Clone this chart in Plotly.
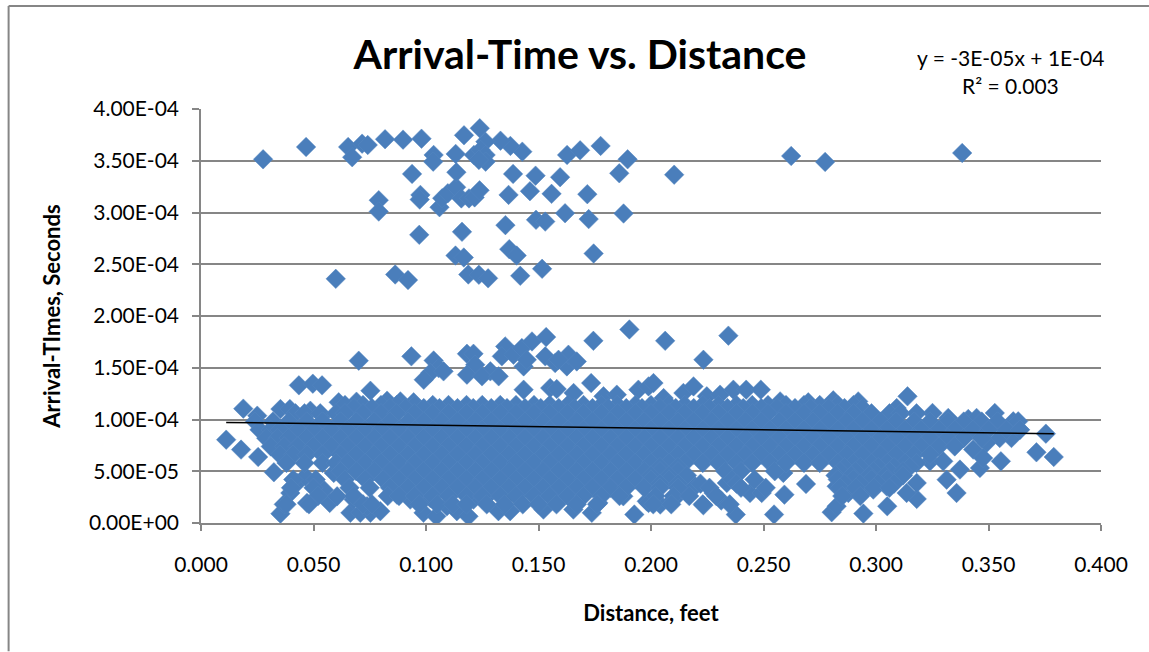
import plotly.graph_objects as go

# Values. Distance in feet, arrival time in microseconds.
upper_x = [.0276,.0467,.0654,.0672,.0716,.0741,.0818,.0898,.098,.1034,.1032,.0938,.079,.079,.0975,.0972,.097,.0599,.0863,.092,
           .106,.1072,.1097,.1134,.1135,.1132,.1157,.1191,.1216,.1238,.116,.1131,.1168,.1188,.1235,.1276,.1419,.1516,.1353,.137,
           .1403,.1489,.153,.1618,.1723,.1878,.1745,.1367,.1462,.1558,.1717,.1387,.1487,.1596,.1859,.1896,.1627,.1685,.1776,.1428,
           .1375,.1331,.1264,.1239,.1169,.1213,.1243,.1265,.1265,.1235,.2103,.2623,.2774,.3383]
upper_y = [351.4,363.3,363.3,353.4,366.5,365.2,370.8,370.4,371.3,355.6,349.1,337.3,311.9,300.9,317.0,312.5,278.4,235.9,240.1,234.7,
           305.1,313.8,318.6,324.4,338.9,356.6,313.6,313.6,314.6,321.4,281.3,258.4,256.5,240.1,239.8,236.4,238.8,245.6,287.8,264.6,
           258.4,292.9,291.2,299.3,293.6,299.0,260.4,317.0,320.6,318.0,317.7,337.3,335.6,334.1,337.9,351.4,355.6,360.1,364.3,358.8,
           364.3,369.4,368.4,381.4,374.6,355.6,360.4,355.6,349.1,350.8,336.5,354.6,348.9,357.5]

top_edge_x = [.0188,.025,.0353,.0395,.0435,.0497,.0538,.0486,.0538,.0612,.0691,.0701,.0753,.0827,.0886,.0945,.0935,.1034,.1056,.1019,
              .099,.1078,.1182,.1211,.1219,.1182,.1286,.1249,.1323,.1352,.1337,.1389,.1426,.1471,.1534,.1434,.1448,.153,.1574,.1626,
              .1633,.167,.1589,.1744,.1904,.1734,.1434,.1552,.1581,.1656,.1789,.1848,.1944,.1989,
              .2011,.2063,.2233,.2344,.2056,.2144,.2189,.2248,.2307,.2366,.2423,.2488,.2574,.2699,.281,.2921,.2988,.3092,.314,.3251,
              .3321,.341,.3447,.3528,.361,.3632,.3755,.3602,.3639,.355,.3432,.3491]
top_edge_y = [110.5,103.7,110.1,110.1,133,134.6,133,108.5,103.7,116.6,117.2,156.8,127.8,118.2,117.5,116.6,161,157,149.7,144.9,
              138.4,146.5,163.5,163.5,152.9,143.3,146.5,141.7,141.7,170.6,161,162.6,169,175.4,179.6,151.3,157.7,161,154.5,151.3,
              162.6,156.1,157.7,176,187,135.2,128.8,130.4,129.4,125.6,122.4,124,128.8,132,
              135.2,176,157.7,181,120.7,125.6,132,122.4,124,128.8,128.8,128.8,117.5,116.6,118.5,117.5,103,111,122.4,106.3,
              101.5,100.5,101.5,106.3,98.2,98.2,86.3,82.1,90.2,82.1,70.9,77.3]

low_edge_x = [.0112,.0178,.0254,.0324,.0353,.0368,.0397,.0427,.0471,.0572,.0464,.0546,.059,.0605,.0664,.0708,.0753,.0797,.0679,.0738,
              .0871,.0841,.093,.0989,.1046,.1093,.1137,.1189,.1019,.1108,.1211,.1271,.1322,.1374,.1374,.1522,.1522,.1596,.1655,.1737,
              .1766,.167,.1877,.1926,.1981,.0901,.0975,.1034,.1123,.1211,.1285,.1374,.1433,.1493,.1566,.17,.1803,.1877,
              .2377,.2547,.2803,.2825,.2944,.305,.3181,.3136,.3181,.2233,.2312,.2041,.1989,.21,.2159,.2196,.2278,.2337,.244,.2492,
              .2593,.2689,.2588,.2825,.2877,.2936,.2988,.3047,.324,.3299,.3713,.379,.3555,.3462,.3476,.3358,.3314,.3373]
low_edge_y = [80.5,70.9,63.8,49,9,18,29,38.7,19.4,19.4,45,32,48.4,25.8,9.8,9.8,9.8,11.4,22.6,16.2,
              27.4,35.5,22.6,9.8,6.5,16.2,11.4,6.5,24.2,27.4,22.6,25.8,11.4,11.4,29,13,29,22.6,13,9.8,
              19.4,29,25.8,8.2,21,38.7,42,42,42,42,42,42,45,42,45,51.6,48.4,43.5,
              8.2,8.2,10.4,16.2,9.1,16.2,23.3,29,38.7,17.2,21.7,17.8,19.4,22.6,29,35.5,29,38.7,29,29,
              27.4,37.7,48.4,35.5,29,29,32.3,35.5,59.6,59.6,68.3,63.8,59.6,53.2,62.8,29,41.9,51.6]

# Dense body of the cloud, read as horizontal bands
band_114 = [.064,.072,.080,.087,.095,.103,.110,.118,.125,.133,.140,.148,.155,.163,.170,.178,.185,.193,.200,.208,.215,.223,.230,.238,.245,.252,.260,.268,.275,.283,.290]
band_111 = [.068,.076,.084,.091,.099,.106,.114,.121,.129,.136,.144,.151,.159,.166,.174,.181,.189,.196,.204,.211,.219,.226,.234,.241,.249,.256,.264,.271,.279,.286,.294]
band_106 = [.042,.046,.053,.060,.064,.072,.080,.087,.095,.103,.110,.118,.125,.133,.140,.148,.155,.163,.170,.178,.185,.193,.200,.208,.215,.223,.230,.238,.245,.252,.260,.268,.275,.283,.290,.298,.306,.311,.318]
band_98 = [.024,.032,.039,.047,.054,.062,.069,.077,.084,.092,.099,.107,.114,.122,.129,.137,.144,.152,.159,.167,.174,.182,.189,.197,.204,.212,.219,.227,.234,.242,.249,.257,.264,.272,.279,.287,.294,.302,.309,.317,.324,.332,.339,.347,.354]
band_90 = [.026,.031,.035,.043,.050,.058,.065,.073,.080,.088,.095,.103,.110,.118,.125,.133,.140,.148,.155,.163,.170,.178,.185,.193,.200,.208,.215,.223,.230,.238,.245,.253,.260,.268,.275,.283,.290,.298,.305,.313,.320,.328,.335,.343,.350,.358,.364]
band_82 = [.029,.034,.039,.047,.054,.062,.069,.077,.084,.092,.099,.107,.114,.122,.129,.137,.144,.152,.159,.167,.174,.182,.189,.197,.204,.212,.219,.227,.234,.242,.249,.257,.264,.272,.279,.287,.294,.302,.309,.317,.324,.332,.339,.347]
band_74 = [.031,.037,.043,.050,.058,.065,.073,.080,.088,.095,.103,.110,.118,.125,.133,.140,.148,.155,.163,.170,.178,.185,.193,.200,.208,.215,.223,.230,.238,.245,.253,.260,.268,.275,.283,.290,.298,.305,.313,.320,.328,.335]
band_66 = [.035,.041,.047,.054,.062,.069,.077,.084,.092,.099,.107,.114,.122,.129,.137,.144,.152,.159,.167,.174,.182,.189,.197,.204,.212,.219,.227,.234,.242,.249,.257,.264,.272,.279,.287,.294,.302,.309,.317,.324]
band_58 = [.038,.046,.054,.060,.065,.073,.080,.088,.095,.103,.110,.118,.125,.133,.140,.148,.155,.163,.170,.178,.185,.193,.200,.208,.215,.223,.230,.238,.245,.253,.260,.268,.275,.283,.290,.298,.305,.313,.318]
band_54 = [.204,.212,.286,.293,.301,.308,.315]
band_50 = [.062,.069,.077,.084,.092,.099,.107,.114,.122,.129,.137,.144,.152,.159,.167,.174,.182,.189,.197,.204,.212,.233,.240,.255,.284,.291,.299,.306,.312]
band_46 = [.200,.208,.216,.282,.289,.297,.304,.312]
band_42 = [.041,.051,.064,.073,.081,.088,.095,.103,.110,.118,.125,.133,.140,.148,.155,.163,.170,.178,.185,.193,.200,.208,.236,.246,.283,.290,.298,.305]
band_38 = [.204,.212,.222,.238,.286,.293,.301,.308]
band_34 = [.040,.050,.066,.075,.084,.092,.099,.107,.114,.122,.129,.137,.144,.152,.159,.167,.174,.182,.189,.197,.204,.212,.226,.240,.251,.284,.291,.299,.306]
band_26 = [.052,.068,.083,.088,.095,.103,.110,.118,.125,.133,.140,.148,.155,.163,.170,.178,.186,.202,.210,.217,.229,.285,.293]
band_18 = [.038,.048,.072,.076,.097,.105,.112,.118,.127,.135,.143,.150,.158,.167,.176,.201,.209,.223,.235]
band_levels = [114, 111, 106, 98, 90, 82, 74, 66, 58, 54, 50, 46, 42, 38, 34, 26, 18]
bands = [band_114, band_111, band_106, band_98, band_90, band_82, band_74, band_66, band_58, band_54, band_50,
         band_46, band_42, band_38, band_34, band_26, band_18]

trend_x = [.0112, .379]
trend_y = [97.2, 86.3]

x_ticks = [0, .05, .1, .15, .2, .25, .3, .35, .4]
x_tick_labels = ["0.000", "0.050", "0.100", "0.150", "0.200", "0.250", "0.300", "0.350", "0.400"]
y_ticks = [0, 5e-5, 1e-4, 1.5e-4, 2e-4, 2.5e-4, 3e-4, 3.5e-4, 4e-4]
y_tick_labels = ["0.00E+00", "5.00E-05", "1.00E-04", "1.50E-04", "2.00E-04", "2.50E-04", "3.00E-04", "3.50E-04", "4.00E-04"]

FONT = "Lato"
GREY = "#868686"
W, H = 1149, 652
L, R, T, B = 200.5, 1101, 109, 523.5

def secs(values):
    return [v * 1e-6 for v in values]

all_x = list(upper_x) + list(top_edge_x) + list(low_edge_x)
all_y = list(upper_y) + list(top_edge_y) + list(low_edge_y)
for level, xs in zip(band_levels, bands):
    all_x += xs
    all_y += [level] * len(xs)

fig = go.Figure()
fig.add_trace(go.Scatter(x=all_x, y=secs(all_y), mode="markers", name="Arrival-Times",
                         marker=dict(symbol="diamond", size=15, color="#4A7EBB",
                                     line=dict(color="#5587C0", width=0.5))))
fig.add_trace(go.Scatter(x=trend_x, y=secs(trend_y), mode="lines", name="Linear",
                         line=dict(color="#000000", width=1.5)))

def px(v):
    return (v - L) / (R - L)

def py(v):
    return (B - v) / (B - T)

axis_common = dict(showline=True, linecolor=GREY, linewidth=1.5, ticks="outside", tickcolor=GREY,
                   tickwidth=1.5, zeroline=False, tickfont=dict(family=FONT, size=21, color="#000000"))
fig.update_layout(
    width=W, height=H, autosize=False, showlegend=False,
    margin=dict(l=L, r=W - R, t=T, b=H - B, pad=0),
    paper_bgcolor="white", plot_bgcolor="white",
    title=dict(text="<b>Arrival-Time vs. Distance</b>", x=580 / W, y=1 - 55 / H, xanchor="center", yanchor="middle",
               font=dict(family=FONT, size=41, color="#000000")),
    xaxis=dict(range=[0, .4], tickvals=x_ticks, ticktext=x_tick_labels, showgrid=False, ticklen=6,
               ticklabelstandoff=16, title=dict(text="<b>Distance, feet</b>", standoff=31,
               font=dict(family=FONT, size=22, color="#000000")), **axis_common),
    yaxis=dict(range=[0, 4e-4], tickvals=y_ticks, ticktext=y_tick_labels, showgrid=True, gridcolor=GREY, gridwidth=1.5,
               ticklen=7, ticklabelstandoff=9, title=dict(text="<b>Arrival-TImes, Seconds</b>", standoff=22,
               font=dict(family=FONT, size=22, color="#000000")), **axis_common),
    annotations=[
        dict(text="y = -3E-05x + 1E-04", xref="paper", yref="paper", x=px(1010), y=py(57), showarrow=False,
             xanchor="center", yanchor="middle", font=dict(family=FONT, size=21, color="#000000")),
        dict(text="R² = 0.003", xref="paper", yref="paper", x=px(1010), y=py(85), showarrow=False,
             xanchor="center", yanchor="middle", font=dict(family=FONT, size=21, color="#000000")),
    ],
    shapes=[
        dict(type="line", xref="paper", yref="paper", x0=px(8), x1=px(8), y0=py(6), y1=py(652),
             line=dict(color=GREY, width=2)),
        dict(type="line", xref="paper", yref="paper", x0=px(8), x1=px(1149), y0=py(6), y1=py(6),
             line=dict(color=GREY, width=2)),
    ],
)
fig.write_html("out.html", config={"displayModeBar": False},
               post_script="document.body.style.margin='0';document.body.style.overflow='hidden';")
